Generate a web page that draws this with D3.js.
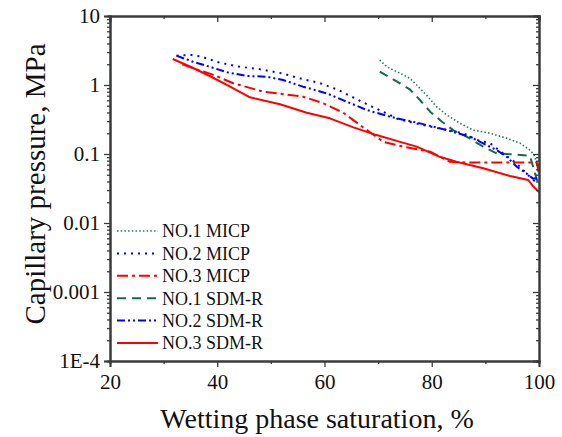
<!DOCTYPE html>
<html><head><meta charset="utf-8">
<script src="https://cdn.jsdelivr.net/npm/d3@7"></script>
<style>
html,body{margin:0;padding:0;background:#fff;}
text{font-family:"Liberation Serif","Times New Roman",serif;fill:#111;}
</style></head>
<body><svg id="c" width="562" height="437"></svg>
<script>
// ---- data ----
const xTicks = [20, 40, 60, 80, 100];
const yTicks = [1e-4, 1e-3, 1e-2, 1e-1, 1, 10];
const yTickLabels = ["1E-4", "0.001", "0.01", "0.1", "1", "10"];
const seriesNames = ["NO.1 MICP", "NO.2 MICP", "NO.3 MICP", "NO.1 SDM-R", "NO.2 SDM-R", "NO.3 SDM-R"];

const no1MicpS = [70.3, 71.6, 74.1, 75.9, 77.2, 79.0, 80.9, 82.8, 85.3, 87.7, 90.9, 94.0, 96.5, 98.3, 99.1, 99.6, 100];
const no1MicpP = [2.3, 1.84, 1.48, 1.25, 1.0, 0.716, 0.485, 0.368, 0.278, 0.222, 0.2, 0.169, 0.143, 0.114, 0.097, 0.073, 0.065];

const no2MicpS = [32.4, 35.2, 37.1, 40.5, 44.2, 48.0, 52.0, 55.4, 59.2, 62.6, 65.7, 68.5, 72.2, 73.8, 79.7, 85.9, 88.4, 90.9, 93.3, 95.8, 97.7, 98.9, 100];
const no2MicpP = [2.66, 2.72, 2.57, 2.1, 1.84, 1.69, 1.48, 1.25, 1.06, 0.846, 0.64, 0.50, 0.368, 0.318, 0.25, 0.2, 0.16, 0.143, 0.102, 0.073, 0.052, 0.042, 0.038];

const no3MicpS = [33.5, 36.0, 39.3, 43.0, 48.6, 56.0, 59.8, 63.5, 67.2, 71.0, 74.7, 79.7, 83.4, 87.1, 99.6, 100];
const no3MicpP = [2.0, 1.7, 1.40, 1.06, 0.80, 0.677, 0.543, 0.397, 0.243, 0.15, 0.128, 0.108, 0.077, 0.075, 0.075, 0.05];

const no1SdmS = [70.3, 72.8, 75.9, 77.8, 79.7, 81.9, 84.0, 86.5, 89.6, 92.1, 96.5, 98.3, 98.9, 99.6, 100];
const no1SdmP = [1.56, 1.21, 0.866, 0.606, 0.41, 0.294, 0.222, 0.178, 0.128, 0.102, 0.097, 0.094, 0.066, 0.042, 0.04];

const no2SdmS = [32.4, 35.5, 38.6, 41.8, 45.5, 49.2, 52.3, 56.0, 60.4, 64.1, 67.9, 72.2, 77.8, 82.8, 87.1, 92.1, 94.0, 95.8, 97.7, 98.9, 100];
const no2SdmP = [2.66, 2.17, 1.84, 1.53, 1.35, 1.32, 1.18, 0.946, 0.758, 0.574, 0.434, 0.347, 0.278, 0.222, 0.178, 0.114, 0.091, 0.066, 0.052, 0.044, 0.045];

const no3SdmS = [31.7, 35.0, 38.6, 42.4, 46.1, 51.7, 56.7, 61.0, 65.4, 69.7, 74.1, 77.2, 81.5, 84.6, 89.6, 94.6, 98.0, 98.9, 100];
const no3SdmP = [2.38, 1.84, 1.35, 0.945, 0.664, 0.525, 0.397, 0.329, 0.243, 0.188, 0.15, 0.128, 0.091, 0.077, 0.062, 0.048, 0.042, 0.034, 0.028];

// ---- chart ----
const svg = d3.select("#c");
const L = 110, R = 539, T = 16, B = 361;
const x = d3.scaleLinear().domain([20, 100]).range([L, R]);
const y = d3.scaleLog().domain([1e-4, 10]).range([B, T]);

const series = [
  {S: no1MicpS, P: no1MicpP, color: "#237a57", width: 1.6, dash: "1.5,2.2", cap: "butt"},
  {S: no2MicpS, P: no2MicpP, color: "#0000ff", width: 2, dash: "2,5", cap: "butt"},
  {S: no3MicpS, P: no3MicpP, color: "#ff0000", width: 2, dash: "11,4,3,4", cap: "butt"},
  {S: no1SdmS, P: no1SdmP, color: "#17694a", width: 2, dash: "9,6", cap: "butt"},
  {S: no2SdmS, P: no2SdmP, color: "#0000ff", width: 2, dash: "8,3,2,3,2,3", cap: "butt"},
  {S: no3SdmS, P: no3SdmP, color: "#ff0000", width: 2, dash: null, cap: "butt"}
];

const line = d3.line().x(d => x(d[0])).y(d => y(d[1]));
series.forEach(s => {
  const pts = s.S.map((v, i) => [v, s.P[i]]);
  svg.append("path").attr("d", line(pts)).attr("fill", "none")
    .attr("stroke", s.color).attr("stroke-width", s.width)
    .attr("stroke-dasharray", s.dash).attr("stroke-linejoin", "round");
});

// minor ticks
const yMinor = [];
for (let e = -4; e < 1; e++) for (let m = 2; m <= 9; m++) yMinor.push(m * Math.pow(10, e));
const xMinor = [30, 50, 70, 90];
const axColor = "#3a3a3a";

function styleAxis(g) {
  g.select(".domain").attr("stroke", axColor).attr("stroke-width", 2);
  g.selectAll(".tick line").attr("stroke", axColor).attr("stroke-width", 1.3);
  g.selectAll(".tick text").style("font-size", "21px").attr("fill", "#111")
    .style("font-family", "'Liberation Serif','Times New Roman',serif");
}

// bottom
const gb = svg.append("g").attr("transform", `translate(0,${B})`)
  .call(d3.axisBottom(x).tickValues(xTicks).tickSize(6).tickPadding(6).tickFormat(d3.format("d")));
styleAxis(gb); gb.selectAll(".tick text").attr("dy", "0.78em");
const gbm = svg.append("g").attr("transform", `translate(0,${B})`)
  .call(d3.axisBottom(x).tickValues(xMinor).tickSize(3).tickFormat(""));
styleAxis(gbm);
// top
const gt = svg.append("g").attr("transform", `translate(0,${T})`)
  .call(d3.axisBottom(x).tickValues(xTicks).tickSize(6).tickFormat(""));
styleAxis(gt);
const gtm = svg.append("g").attr("transform", `translate(0,${T})`)
  .call(d3.axisBottom(x).tickValues(xMinor).tickSize(3).tickFormat(""));
styleAxis(gtm);
// left
const gl = svg.append("g").attr("transform", `translate(${L},0)`)
  .call(d3.axisLeft(y).tickValues(yTicks).tickSize(6).tickPadding(4)
    .tickFormat((d, i) => yTickLabels[i]));
styleAxis(gl);
const glm = svg.append("g").attr("transform", `translate(${L},0)`)
  .call(d3.axisLeft(y).tickValues(yMinor).tickSize(3).tickFormat(""));
styleAxis(glm);
// right
const gr = svg.append("g").attr("transform", `translate(${R},0)`)
  .call(d3.axisLeft(y).tickValues(yTicks).tickSize(6).tickFormat(""));
styleAxis(gr);
const grm = svg.append("g").attr("transform", `translate(${R},0)`)
  .call(d3.axisLeft(y).tickValues(yMinor).tickSize(3).tickFormat(""));
styleAxis(grm);
[gt, gtm, gr, grm, gbm, glm].forEach(g => g.select(".domain").attr("stroke-width", 2));

// axis titles
svg.append("text").attr("x", 317).attr("y", 428).attr("text-anchor", "middle")
  .style("font-size", "28px").text("Wetting phase saturation, %");
svg.append("text").attr("transform", "translate(45,184) rotate(-90)").attr("text-anchor", "middle")
  .style("font-size", "29px").text("Capillary pressure, MPa");

// legend
const legY = d3.scaleLinear().domain([0, 5]).range([231, 343]);
series.forEach((s, i) => {
  const yy = legY(i);
  svg.append("line").attr("x1", 117).attr("x2", 158).attr("y1", yy).attr("y2", yy)
    .attr("stroke", s.color).attr("stroke-width", s.width).attr("stroke-dasharray", s.dash);
  svg.append("text").attr("x", 162).attr("y", yy).attr("dy", "0.35em")
    .style("font-size", "18px").text(seriesNames[i]);
});
</script></body></html>
